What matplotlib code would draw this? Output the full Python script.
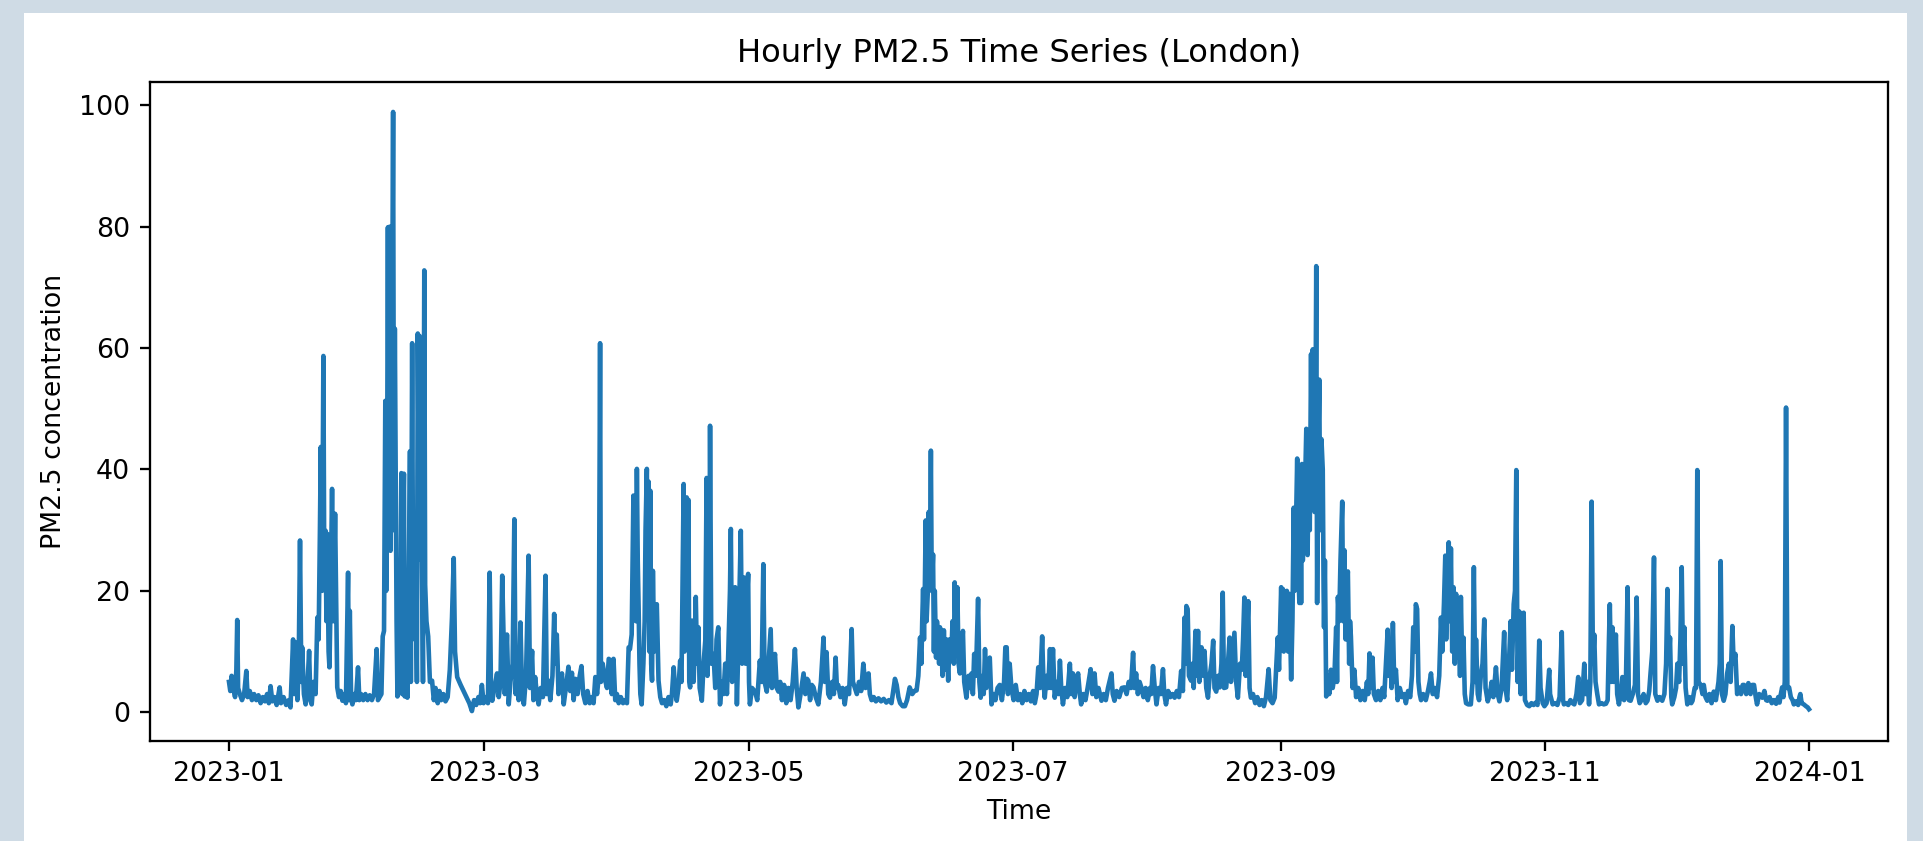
import matplotlib
matplotlib.use("Agg")
import matplotlib.pyplot as plt
import matplotlib.dates as mdates
from matplotlib.patches import Rectangle
import numpy as np
import pandas as pd

START = "2023-01-01"
TITLE = "Hourly PM2.5 Time Series (London)"
XLABEL = "Time"
YLABEL = "PM2.5 concentration"

# (days since 2023-01-01 00:00, PM2.5)
jan = [(0.0,5.0),(0.3,3.5),(0.6,6.0),(1.0,4.0),(1.4,2.5),(1.7,7.0),(1.9,15.2),(2.1,4.0),(2.5,3.0),(3.0,2.0),
       (3.5,3.0),(4.0,6.8),(4.3,2.5),(4.8,3.5),(5.3,2.0),(5.8,3.0),(6.3,2.0),(6.8,2.8),(7.3,1.5),(7.8,2.5),
       (8.3,1.8),(8.8,3.0),(9.2,1.5),(9.6,4.3),(10.0,1.8),(10.5,2.5),(11.0,1.2),(11.7,4.1),(12.0,1.5),(12.6,2.5),
       (13.2,1.2),(13.8,2.0),(14.2,0.8),(14.8,12.0),(15.1,3.0),(15.4,11.5),(15.8,2.0),(16.1,8.0),(16.4,28.3),(16.7,5.0),
       (16.9,10.7),(17.3,3.0),(17.7,1.3),(18.1,4.0),(18.5,10.1),(18.8,2.0),(19.1,1.3),(19.5,5.0),(20.0,3.0),(20.4,15.6),
       (20.7,12.0),(21.0,30.0),(21.2,43.7),(21.5,20.0),(21.8,58.7),(22.0,23.3),(22.3,29.9),(22.5,15.0),(22.7,29.4),(23.0,10.0),
       (23.2,7.4),(23.5,20.0),(23.8,36.8),(24.1,15.0),(24.5,32.7),(24.7,21.0),(25.0,4.1),(25.4,2.5),(25.8,3.5),(26.2,1.9),
       (26.6,3.0),(27.0,1.5),(27.3,15.0),(27.5,23.0),(27.7,2.0),(27.9,16.7),(28.2,2.4),(28.5,1.3),(28.9,3.0),(29.3,2.0),
       (29.8,7.4),(30.1,2.0),(30.5,3.0),(31.0,2.0)]
feb = [(31.5,3.0),(32.0,2.0),(32.5,2.8),(33.0,2.0),(33.5,3.0),(34.1,10.4),(34.4,2.0),(34.8,2.5),(35.2,3.0),(35.5,12.5),
       (35.8,13.4),(36.1,51.3),(36.3,20.0),(36.5,35.0),(36.7,79.9),(36.9,30.0),(37.1,80.0),(37.3,26.6),(37.6,50.0),(37.9,98.9),
       (38.1,30.0),(38.3,63.2),(38.5,40.0),(38.7,15.0),(38.9,2.6),(39.2,20.0),(39.5,5.0),(39.8,39.4),(40.0,3.0),(40.2,30.0),
       (40.4,39.3),(40.6,2.6),(40.9,10.0),(41.2,2.4),(41.5,20.0),(41.8,43.0),(42.0,5.0),(42.3,60.8),(42.5,19.6),(42.7,30.2),
       (42.9,12.0),(43.1,25.0),(43.4,5.0),(43.6,62.4),(43.8,40.0),(44.0,62.0),(44.2,25.2),(44.5,30.0),(44.8,5.0),(45.1,72.8),
       (45.3,21.0),(45.6,15.0),(46.0,12.5),(46.4,5.0),(46.9,5.2),(47.3,2.0),(47.7,4.0),(48.2,1.5),(48.6,3.5),(49.0,2.0),
       (49.5,3.0),(50.0,1.8),(50.5,2.5),(51.0,7.0),(51.5,15.6),(51.9,25.4),(52.2,10.0),(52.7,5.8),(53.5,4.5),(54.5,3.0),
       (55.5,1.5),(56.1,0.2),(56.6,2.0),(57.1,1.2),(57.6,2.5),(58.0,1.5),(58.4,4.5),(58.8,1.5)]
mar = [(59.3,2.5),(59.8,1.5),(60.2,23.0),(60.5,4.0),(60.8,1.9),(61.3,4.0),(61.9,6.4),(62.3,2.5),(62.7,5.0),(63.1,22.5),
       (63.4,12.8),(63.7,3.0),(64.2,12.8),(64.6,1.3),(65.0,5.0),(65.5,8.0),(65.9,31.8),(66.2,3.0),(66.5,8.5),(66.9,2.0),
       (67.3,14.8),(67.7,3.0),(68.1,1.3),(68.6,6.0),(69.2,25.8),(69.5,4.0),(70.0,10.1),(70.3,2.0),(70.7,5.8),(71.1,3.0),
       (71.5,1.3),(72.0,4.0),(72.5,2.5),(73.1,22.5),(73.4,3.0),(73.8,5.2),(74.2,2.0),(74.7,6.0),(75.1,16.2),(75.4,8.0),
       (75.7,12.8),(76.1,3.0),(76.5,5.0),(76.9,6.4),(77.3,1.3),(77.8,4.0),(78.4,7.5),(78.8,3.5),(79.2,6.5),(79.6,2.0),
       (80.0,5.5),(80.5,3.0),(81.0,6.0),(81.4,7.6),(81.8,3.0),(82.3,1.5),(82.8,3.5),(83.3,1.5),(83.8,2.5),(84.2,1.5),
       (84.6,5.8),(85.0,3.0),(85.4,6.0),(85.7,60.8),(85.9,5.0),(86.3,8.0),(86.9,5.2),(87.3,4.0),(87.7,8.8),(88.0,8.6),
       (88.4,3.0),(88.8,8.8),(89.2,2.0),(89.6,3.0),(90.0,1.5)]
apr = [(90.5,2.5),(91.0,1.5),(91.5,2.0),(91.9,1.5),(92.3,10.7),(92.6,10.4),(93.0,12.8),(93.2,25.0),(93.4,35.7),(93.6,20.0),
       (93.8,30.0),(94.0,15.0),(94.2,40.1),(94.4,25.0),(94.6,17.3),(94.8,8.0),(95.0,3.0),(95.3,1.3),(95.7,8.0),(96.0,15.0),
       (96.2,30.0),(96.5,40.1),(96.7,20.0),(96.9,38.0),(97.1,10.0),(97.3,36.5),(97.5,8.0),(97.7,5.2),(97.9,23.3),(98.2,10.0),
       (98.5,15.0),(98.8,17.8),(99.2,5.2),(99.6,2.5),(100.0,1.5),(100.5,2.0),(101.0,1.0),(101.5,2.5),(102.0,1.3),(102.3,3.0),
       (102.7,7.4),(103.0,4.0),(103.4,1.9),(103.8,4.0),(104.2,8.5),(104.5,5.0),(104.8,25.0),(105.0,37.6),(105.2,10.0),(105.4,30.0),
       (105.7,35.4),(105.9,15.0),(106.1,35.0),(106.3,5.0),(106.5,4.1),(106.8,10.0),(107.0,15.1),(107.3,5.0),(107.6,12.0),(107.8,19.0),
       (108.1,8.0),(108.4,14.0),(108.7,4.0),(109.2,1.9),(109.6,8.0),(110.0,11.8),(110.3,38.6),(110.5,6.0),(110.7,20.0),(110.9,10.0),
       (111.1,47.2),(111.4,8.0),(111.9,9.6),(112.3,4.0),(112.6,12.0),(113.0,14.0),(113.4,1.3),(113.8,5.0),(114.2,3.0),(114.6,8.0),
       (115.0,3.0),(115.3,9.6),(115.7,20.0),(115.9,30.2),(116.2,5.0),(116.5,9.6),(116.9,20.6),(117.3,1.3),(117.6,10.0),(117.9,20.0),
       (118.2,29.9),(118.5,8.0),(118.8,20.0),(119.0,22.2),(119.3,8.0),(119.6,18.0),(119.9,22.8),(120.1,5.0),(120.3,1.3)]
may = [(120.8,4.0),(121.5,3.4),(122.0,2.0),(122.6,8.5),(123.0,5.0),(123.4,24.4),(123.7,5.0),(124.2,3.4),(124.6,8.0),(125.1,13.7),
       (125.4,4.0),(125.8,8.0),(126.1,9.6),(126.5,4.0),(126.9,3.4),(127.3,5.0),(127.7,2.0),(128.2,4.5),(128.7,1.5),(129.2,4.0),
       (129.7,2.0),(130.2,5.0),(130.7,10.4),(131.1,4.0),(131.5,0.8),(132.0,3.0),(132.7,6.4),(133.1,3.0),(133.5,5.5),(133.8,5.2),
       (134.2,2.0),(134.6,4.5),(135.0,4.1),(135.5,2.5),(136.1,1.3),(136.7,5.0),(137.3,12.3),(137.6,5.0),(138.0,9.9),(138.4,3.0),
       (138.8,2.4),(139.3,5.0),(139.7,3.0),(140.1,9.0),(140.4,4.0),(140.7,4.5),(141.2,2.5),(141.7,4.0),(142.2,1.3),(142.7,4.0),
       (143.2,3.0),(143.5,8.0),(143.8,13.7),(144.1,5.0),(144.5,4.1),(145.0,3.0),(145.5,5.0),(146.0,3.5),(146.5,8.0),(147.0,4.0),
       (147.7,6.4),(148.0,3.0),(148.4,2.0),(148.9,2.5),(149.4,1.8),(150.0,2.3),(150.6,1.8),(151.2,2.2)]
jun = [(151.8,1.6),(152.4,2.0),(153.0,1.5),(153.4,3.5),(153.8,5.5),(154.2,4.5),(154.6,2.5),(155.0,1.5),(155.6,1.0),(156.1,1.0),
       (156.6,2.0),(157.2,4.1),(157.8,3.0),(158.3,3.5),(158.8,3.6),(159.2,6.0),(159.6,12.3),(159.9,8.0),(160.1,15.0),(160.3,20.3),
       (160.5,12.0),(160.7,20.0),(160.9,31.6),(161.1,15.0),(161.4,20.0),(161.6,33.0),(161.9,25.0),(162.1,43.1),(162.3,20.0),(162.6,26.0),
       (162.8,10.0),(163.0,20.0),(163.3,9.0),(163.5,15.0),(163.8,12.0),(164.0,8.0),(164.2,14.0),(164.5,11.0),(164.8,6.0),(165.1,13.5),
       (165.4,7.0),(165.7,12.0),(166.1,5.2),(166.4,12.0),(166.8,9.0),(167.1,15.0),(167.4,8.0),(167.6,21.4),(167.9,10.0),(168.2,20.6),
       (168.5,8.0),(168.8,6.4),(169.2,10.0),(169.5,13.4),(169.8,5.0),(170.3,2.4),(170.8,6.0),(171.2,4.0),(171.5,6.4),(171.8,3.0),
       (172.1,9.6),(172.5,6.0),(173.0,18.7),(173.3,5.0),(173.6,2.4),(174.0,6.0),(174.3,3.0),(174.6,10.4),(174.9,4.0),(175.3,7.0),
       (175.7,9.0),(176.1,1.3),(176.6,3.0),(177.0,2.0),(177.5,4.0),(178.0,4.5),(178.5,2.0),(179.0,5.0),(179.3,10.7),(179.6,10.7),
       (179.9,3.0),(180.3,8.0),(180.7,4.0)]
jul = [(181.2,2.0),(181.7,4.5),(182.2,2.0),(182.7,3.0),(183.2,1.5),(183.7,3.5),(184.2,2.0),(184.7,3.0),(185.2,1.8),(185.7,3.5),
       (186.1,1.5),(186.5,3.0),(186.9,7.4),(187.3,4.0),(187.8,12.5),(188.1,5.0),(188.4,2.4),(188.8,6.0),(189.2,4.0),(189.6,10.4),
       (189.9,4.0),(190.3,10.4),(190.7,2.4),(191.2,5.0),(191.6,3.0),(191.9,8.5),(192.2,4.0),(192.6,1.3),(193.1,4.0),(193.6,2.5),
       (194.2,8.0),(194.5,3.0),(194.9,6.4),(195.3,2.5),(195.7,5.0),(196.1,6.4),(196.5,3.0),(196.8,1.3),(197.3,3.0),(197.8,2.0),
       (198.3,4.0),(199.0,7.1),(199.4,3.0),(199.9,6.4),(200.3,2.5),(200.8,4.0),(201.5,1.9),(202.0,3.0),(202.5,2.0),(203.0,4.0),
       (203.8,6.4),(204.1,3.0),(204.5,1.9),(205.0,3.5),(205.6,2.5),(206.2,4.0),(206.8,4.1),(207.3,3.0),(207.8,5.0),(208.3,4.0),
       (208.8,9.8),(209.1,4.0),(209.5,6.4),(209.9,3.0),(210.3,5.0),(210.7,4.1),(211.2,2.5),(211.7,4.0),(212.2,2.0)]
aug = [(212.7,4.0),(213.0,3.0),(213.4,7.6),(213.8,4.0),(214.2,1.3),(214.7,4.0),(215.2,3.0),(215.7,7.1),(216.0,3.0),(216.4,1.3),
       (216.9,3.5),(217.4,2.5),(217.9,3.0),(218.4,2.4),(218.9,3.5),(219.4,2.5),(219.9,6.8),(220.3,3.5),(220.7,15.6),(220.9,8.0),
       (221.1,17.5),(221.4,17.0),(221.7,6.0),(222.2,5.2),(222.5,8.0),(222.8,4.0),(223.2,13.4),(223.5,6.0),(223.8,13.4),(224.1,5.0),
       (224.6,10.7),(225.0,6.0),(225.3,10.1),(225.7,4.0),(226.1,2.4),(226.5,6.0),(226.9,8.0),(227.3,11.8),(227.6,4.0),(228.0,3.4),
       (228.4,6.0),(228.8,4.1),(229.2,8.0),(229.5,19.7),(229.8,4.0),(230.3,4.1),(230.7,8.0),(231.1,12.3),(231.4,5.0),(231.8,9.0),
       (232.2,13.1),(232.6,5.0),(233.0,2.4),(233.5,8.0),(233.9,7.0),(234.2,12.0),(234.5,18.9),(234.8,6.0),(235.1,12.0),(235.4,18.3),
       (235.7,4.0),(236.0,2.4),(236.5,3.0),(237.0,1.5),(237.5,2.5),(238.0,1.2),(238.5,2.0),(239.0,1.0),(239.5,2.5),(240.1,7.1),
       (240.5,2.0),(241.0,1.5),(241.5,2.4),(241.9,8.0),(242.2,12.3),(242.5,7.0),(242.8,15.0),(243.0,20.6)]
sep = [(243.2,12.0),(243.4,20.3),(243.6,10.0),(243.8,19.5),(244.0,13.0),(244.3,20.0),(244.6,10.0),(244.9,19.5),(245.1,12.0),(245.3,5.4),
       (245.6,15.0),(245.9,33.7),(246.1,20.0),(246.4,30.0),(246.7,41.8),(246.9,25.0),(247.2,18.0),(247.4,35.0),(247.6,18.0),(247.8,40.9),
       (248.0,25.0),(248.2,35.0),(248.4,28.0),(248.6,40.0),(248.8,46.7),(249.0,30.0),(249.1,25.9),(249.4,45.0),(249.6,30.0),(249.9,59.0),
       (250.1,35.0),(250.3,59.8),(250.5,40.0),(250.7,33.0),(250.9,45.0),(251.1,73.5),(251.3,18.0),(251.5,40.0),(251.8,54.8),(252.0,30.0),
       (252.3,45.0),(252.6,40.0),(252.8,20.0),(252.9,14.0),(253.1,25.0),(253.4,2.6),(253.7,6.0),(254.1,3.0),(254.5,7.0),(254.9,4.0),
       (255.3,6.0),(255.7,14.0),(255.9,5.0),(256.1,19.0),(256.4,15.0),(256.7,25.0),(257.1,34.7),(257.3,15.0),(257.6,26.7),(257.9,12.0),
       (258.1,20.0),(258.4,23.2),(258.7,8.0),(258.9,15.0),(259.1,12.5),(259.5,4.0),(259.9,7.0),(260.3,2.5),(260.8,4.0),(261.3,2.0),
       (261.8,3.5),(262.3,2.0),(262.8,5.0),(263.1,3.0),(263.4,9.7),(263.7,4.0),(264.1,9.0),(264.4,3.0),(264.9,2.0),(265.4,3.5),
       (265.9,2.0),(266.4,4.0),(266.8,2.5),(267.2,8.0),(267.6,13.6),(267.9,6.0),(268.2,10.0),(268.5,4.0),(268.8,14.7),(269.1,5.0),
       (269.5,7.0),(269.9,2.0),(270.4,4.0),(270.9,2.5),(271.4,3.0),(271.8,1.5),(272.3,3.5),(272.8,2.5)]
oct_ = [(273.2,6.0),(273.5,14.0),(273.9,10.0),(274.1,17.8),(274.4,17.0),(274.7,5.0),(275.0,3.0),(275.3,2.0),(275.8,3.0),(276.4,2.0),
        (276.9,3.5),(277.3,5.0),(277.6,6.4),(278.0,3.0),(278.5,4.0),(279.0,2.5),(279.5,6.0),(279.9,15.6),(280.2,10.0),(280.6,18.0),
        (280.9,25.8),(281.1,12.0),(281.4,22.0),(281.7,28.0),(282.0,15.0),(282.2,27.0),(282.5,10.0),(282.8,20.6),(283.1,8.0),(283.4,19.5),
        (283.7,9.0),(284.0,18.0),(284.3,6.0),(284.5,19.0),(284.8,8.0),(285.1,12.3),(285.4,3.0),(285.7,1.5),(286.2,1.3),(286.8,1.3),
        (287.2,5.0),(287.5,23.9),(287.8,5.0),(288.0,12.0),(288.4,3.0),(288.7,2.0),(289.1,6.0),(289.5,8.0),(289.9,15.3),(290.2,4.0),
        (290.7,1.8),(291.2,3.0),(291.6,5.0),(292.0,2.5),(292.6,7.4),(293.0,3.0),(293.4,1.8),(293.9,4.0),(294.5,13.2),(294.8,4.0),
        (295.2,2.0),(295.6,8.0),(296.0,15.0),(296.3,7.0),(296.7,17.8),(297.0,20.0),(297.3,39.9),(297.6,5.0),(298.0,16.6),(298.3,3.0),
        (298.7,10.0),(299.0,16.4),(299.3,2.0),(299.8,1.2),(300.3,1.0),(300.8,1.5),(301.3,1.2),(301.8,1.6),(302.2,1.2),(302.6,11.8),
        (302.9,4.0),(303.4,1.5),(303.8,1.0)]
nov = [(304.3,1.5),(304.9,7.0),(305.1,3.0),(305.7,1.3),(306.2,1.5),(306.8,1.2),(307.3,2.5),(307.8,13.2),(308.1,2.0),(308.3,1.3),
       (308.8,1.5),(309.3,1.2),(309.8,2.0),(310.3,1.5),(310.7,1.3),(311.2,3.0),(311.6,5.8),(312.0,1.5),(312.5,2.0),(313.0,8.0),
       (313.3,3.0),(313.8,5.0),(314.1,1.3),(314.4,5.0),(314.7,34.7),(315.0,8.0),(315.3,12.8),(315.6,5.0),(316.0,3.0),(316.4,1.3),
       (317.0,1.5),(317.5,1.3),(318.0,1.4),(318.4,2.0),(318.7,12.0),(318.9,17.8),(319.2,5.0),(319.5,14.0),(319.8,5.0),(320.3,12.8),
       (320.6,3.0),(321.0,1.3),(321.4,3.0),(321.8,5.8),(322.2,2.0),(322.6,4.0),(323.0,20.6),(323.3,2.0),(323.7,1.9),(324.2,3.0),
       (324.7,4.5),(325.1,18.9),(325.4,3.0),(325.8,1.5),(326.2,2.0),(326.7,3.0),(327.2,1.5),(327.6,1.9),(328.0,3.5),(328.3,6.4),
       (328.7,10.0),(329.1,25.5),(329.4,3.0),(329.9,1.9),(330.4,2.5),(331.0,1.9),(331.5,3.0),(331.9,8.0),(332.2,20.3),(332.5,8.0),
       (332.8,12.3),(333.1,2.5),(333.3,1.3),(333.8,2.5)]
dec = [(334.2,4.0),(334.5,8.0),(334.9,5.0),(335.2,12.0),(335.5,23.9),(335.8,8.0),(336.1,14.0),(336.4,4.0),(336.8,1.3),(337.3,2.5),
       (337.7,1.5),(338.0,1.9),(338.5,4.0),(338.8,4.0),(339.1,39.9),(339.4,5.0),(339.9,4.5),(340.3,3.0),(340.6,4.5),(341.0,2.5),
       (341.4,1.9),(341.9,3.0),(342.4,1.5),(342.9,3.4),(343.4,2.0),(344.0,5.0),(344.3,8.0),(344.5,24.9),(344.8,3.0),(345.2,1.9),
       (345.6,3.0),(346.0,6.4),(346.4,8.0),(346.8,5.0),(347.2,14.2),(347.5,8.0),(347.9,9.6),(348.3,3.0),(348.7,4.1),(349.2,3.0),
       (349.6,4.5),(349.9,4.5),(350.4,3.0),(350.9,4.8),(351.4,3.0),(351.8,4.5),(352.2,4.5),(352.6,2.5),(352.9,1.3),(353.4,3.0),
       (354.1,2.4),(354.6,3.5),(355.0,2.0),(355.3,1.9),(355.8,2.5),(356.3,1.5),(356.8,2.0),(357.3,1.4),(357.8,2.5),(358.1,1.6),
       (358.4,3.0),(358.7,4.1),(359.0,2.5),(359.3,5.0),(359.6,50.2),(359.9,4.0),(360.3,4.1),(360.7,2.5),(361.1,2.0),(361.4,1.3),
       (361.9,1.8),(362.4,1.2),(362.7,2.5),(362.9,3.0),(363.2,1.5),(363.7,1.3),(364.2,1.0),(364.6,0.8),(364.9,0.5)]

obs = jan + feb + mar + apr + may + jun + jul + aug + sep + oct_ + nov + dec
day_offsets = np.array([d for d, _ in obs])
pm25 = np.array([v for _, v in obs])
times = pd.Timestamp(START) + pd.to_timedelta(day_offsets, unit="D")

W, H, DPI = 1923, 841, 207
fig = plt.figure(figsize=(W / DPI, H / DPI), dpi=DPI, facecolor="#cfdbe5")
panel = Rectangle((24 / W, 0), (1907 - 24) / W, (H - 13) / H,
                  transform=fig.transFigure, facecolor="white",
                  edgecolor="none", zorder=-10)
fig.add_artist(panel)
ax = fig.add_axes([150 / W, 1 - 741 / H, (1888 - 150) / W, (741 - 82) / H])
ax.set_zorder(5)
ax.plot(times, pm25, color="#1f77b4", linewidth=1.6)
ax.set_title(TITLE, fontsize=11.2, pad=7)
ax.set_xlabel(XLABEL, fontsize=9.3)
ax.set_ylabel(YLABEL, fontsize=9.3)
ax.tick_params(axis="both", labelsize=9.3)
ax.xaxis.set_major_locator(mdates.MonthLocator(bymonth=[1, 3, 5, 7, 9, 11]))
ax.xaxis.set_major_formatter(mdates.DateFormatter("%Y-%m"))
ax.set_yticks([0, 20, 40, 60, 80, 100])

fig.savefig("out.png", dpi=DPI, facecolor=fig.get_facecolor())
